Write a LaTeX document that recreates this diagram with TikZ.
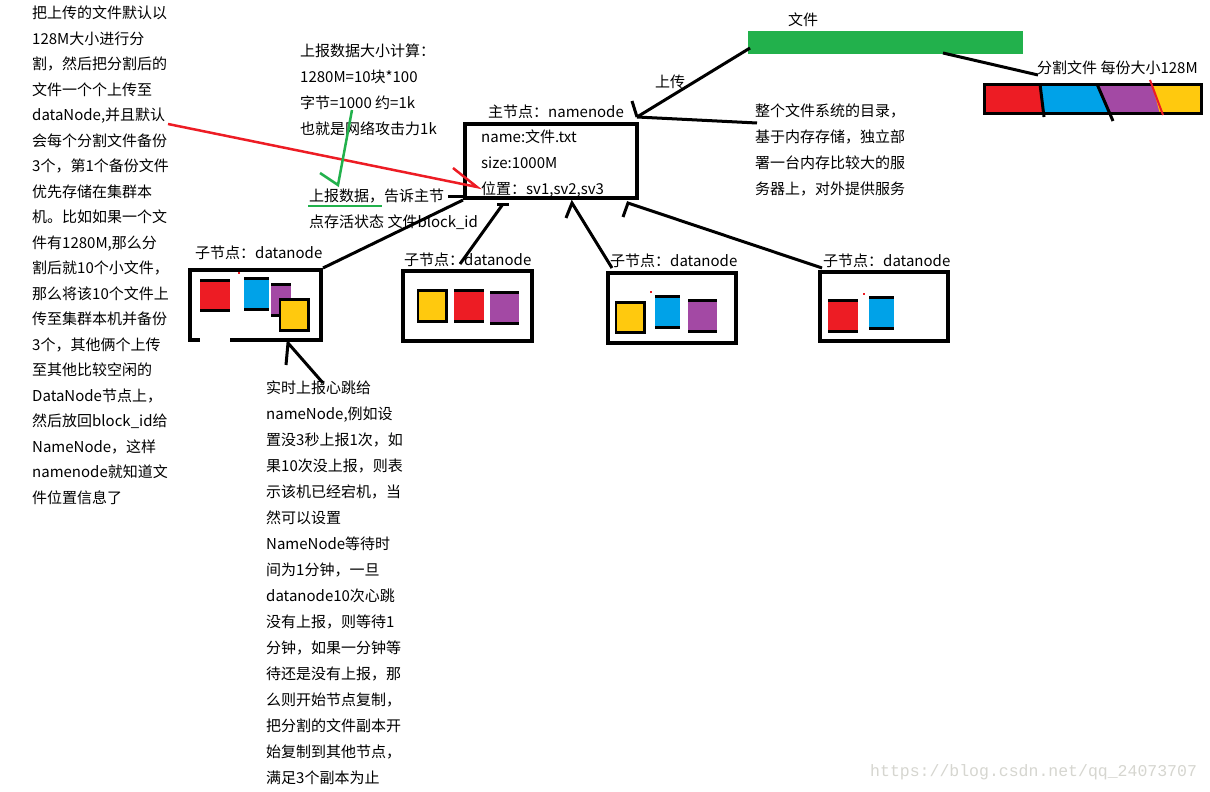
\documentclass[tikz,border=0pt]{standalone}
\usepackage{fontspec}
\setmainfont{Noto Sans CJK SC}
\newfontfamily\markfont{Liberation Mono}
\definecolor{pRed}{HTML}{ED1C24}
\definecolor{pBlue}{HTML}{00A2E8}
\definecolor{pPurple}{HTML}{A349A4}
\definecolor{pYellow}{HTML}{FFC90E}
\definecolor{pGreen}{HTML}{22B14C}
\definecolor{pMark}{HTML}{D6D6D0}
\tikzset{
  txt/.style={anchor=west, inner sep=0pt, font=\fontsize{15}{26}\selectfont},
  para/.style={anchor=north west, inner sep=0pt, align=left, font=\fontsize{15}{26}\selectfont},
  box/.style={draw, line width=4pt, inner sep=0pt},
  pen/.style={line width=3pt},
}
% colour block, black bars top and bottom
\newcommand{\barblock}[5]{%
  \fill[#5] (#1,#2) rectangle (#3,#4);
  \fill[black] (#1,#2) rectangle (#3,#2+3);
  \fill[black] (#1,#4-3) rectangle (#3,#4);
}
% colour block in a black frame
\newcommand{\frameblock}[5]{%
  \fill[black] (#1,#2) rectangle (#3,#4);
  \fill[#5] (#1+2,#2+3) rectangle (#3-3,#4-3);
}
\begin{document}
\begin{tikzpicture}[x=1pt, y=-1pt]
\useasboundingbox[fill=white] (0,0) rectangle (1210,792);
% notes
\node[para, font=\fontsize{15}{25.5}\selectfont] (T_left) at (32,6) {把上传的文件默认以\\128M大小进行分\\割，然后把分割后的\\文件一个个上传至\\dataNode,并且默认\\会每个分割文件备份\\3个，第1个备份文件\\优先存储在集群本\\机。比如如果一个文\\件有1280M,那么分\\割后就10个小文件，\\那么将该10个文件上\\传至集群本机并备份\\3个，其他俩个上传\\至其他比较空闲的\\DataNode节点上，\\然后放回block\_id给\\NameNode，这样\\namenode就知道文\\件位置信息了};
\node[para] (T_calc) at (300,44) {上报数据大小计算：\\1280M=10块*100\\字节=1000 约=1k\\也就是网络攻击力1k};
\node[para] (T_report) at (309,189) {上报数据，告诉主节\\点存活状态 文件block\_id};
\node[para] (T_dir) at (755,104) {整个文件系统的目录，\\基于内存存储，独立部\\署一台内存比较大的服\\务器上，对外提供服务};
\node[para] (T_beat) at (266,381) {实时上报心跳给\\nameNode,例如设\\置没3秒上报1次，如\\果10次没上报，则表\\示该机已经宕机，当\\然可以设置\\NameNode等待时\\间为1分钟，一旦\\datanode10次心跳\\没有上报，则等待1\\分钟，如果一分钟等\\待还是没有上报，那\\么则开始节点复制，\\把分割的文件副本开\\始复制到其他节点，\\满足3个副本为止};
% file and split file
\fill[pGreen] (748,31) rectangle (1023,54);
\coordinate (F_sw) at (750,48);
\coordinate (F_s) at (943,53);
\node[txt] (T_file) at (788,20) {文件};
\node[txt] (T_split) at (1037,68) {分割文件 每份大小128M};
\coordinate (S_nw) at (1038,75);
\fill[pRed] (984,84) rectangle (1202,114);
\fill[pBlue] (1041,84) -- (1098,84) -- (1110,114) -- (1044,114) -- cycle;
\fill[pPurple] (1098,84) -- (1152,84) -- (1160,114) -- (1110,114) -- cycle;
\fill[pYellow] (1152,84) -- (1202,84) -- (1202,114) -- (1160,114) -- cycle;
\draw[line width=3pt] (984.5,84.5) rectangle (1201.5,113.5);
\draw[pen] (1040,84) -- (1044,117);
\draw[pen] (1097,84) -- (1113,121);
\draw[pRed, line width=2pt] (1150,80) -- (1163,115);
\draw[pen] (F_s) -- (S_nw);
% namenode
\node[box, minimum width=172pt, minimum height=74pt] (NN) at (551,161) {};
\node[txt] (NN_label) at (488,112) {主节点：namenode};
\node[para] (NN_text) at (481,130) {name:文件.txt\\size:1000M\\位置：sv1,sv2,sv3};
\coordinate (NN_ne) at (637,117);
\coordinate (NN_tick) at (632,101);
\coordinate (Dir_w) at (757,123);
\node[txt] (T_up) at (655,82) {上传};
\draw[pen] (NN_ne) -- (F_sw);
\draw[pen] (NN_ne) -- (Dir_w);
\draw[pen] (NN_tick) -- (NN_ne);
\coordinate (R_w) at (448,196);
\draw[pen] (R_w) -- (NN.west |- R_w);
% datanodes
\node[box, minimum width=131pt, minimum height=70pt] (D_1) at (255.5,305) {};
\node[box, minimum width=129pt, minimum height=70pt] (D_2) at (467.5,306) {};
\node[box, minimum width=128pt, minimum height=70pt] (D_3) at (672,308) {};
\node[box, minimum width=128pt, minimum height=69pt] (D_4) at (884,306.5) {};
\node[txt] (D_1_label) at (195,253) {子节点：datanode};
\node[txt] (D_2_label) at (404,260) {子节点：datanode};
\node[txt] (D_3_label) at (610,261) {子节点：datanode};
\node[txt] (D_4_label) at (823,261) {子节点：datanode};
% blocks in datanodes
\barblock{200}{279}{230}{312}{pRed}
\barblock{244}{277}{269}{311}{pBlue}
\barblock{271}{283}{291}{317}{pPurple}
\frameblock{279}{298}{310}{332}{pYellow}
\fill[white] (200,338) rectangle (230,343);
\fill[pRed] (238,272) rectangle (240,274);
\frameblock{417}{289}{448}{323}{pYellow}
\barblock{454}{289}{484}{323}{pRed}
\barblock{490}{291}{519}{325}{pPurple}
\frameblock{615}{301}{646}{334}{pYellow}
\barblock{655}{295}{680}{329}{pBlue}
\barblock{688}{299}{717}{333}{pPurple}
\fill[pRed] (650,291) rectangle (652,293);
\barblock{828}{299}{858}{333}{pRed}
\barblock{869}{296}{894}{330}{pBlue}
\fill[pRed] (863,293) rectangle (865,295);
% connectors to namenode
\draw[pen] (NN.south west) -- (D_1.north east);
\coordinate (A_2) at (503,204);
\coordinate (B_2) at (460,264);
\draw[pen] (B_2) -- (A_2);
\draw[pen] (497,204) -- (509,204);
\coordinate (A_3) at (572,203);
\coordinate (B_3) at (612,268);
\draw[pen] (B_3) -- (A_3) -- (566,218);
\coordinate (A_4) at (628,203);
\coordinate (B_4) at (822,268);
\draw[pen] (B_4) -- (A_4) -- (623,217);
% heartbeat arrow
\coordinate (H_tip) at (288,343);
\coordinate (H_end) at (323,383);
\draw[pen] (H_end) -- (H_tip) -- (286,365);
% red and green marks
\coordinate (Red_a) at (168,124);
\coordinate (Red_b) at (477,187);
\draw[pRed, line width=2.5pt] (Red_a) -- (Red_b) -- (453,168);
\coordinate (G_top) at (352,110);
\coordinate (G_tip) at (338,185);
\draw[pGreen, line width=2.5pt] (G_top) -- (G_tip) -- (320,173);
\draw[pGreen, line width=2.5pt] (308,206) -- (382,206);
% watermark
\node[anchor=west, inner sep=0pt, text=pMark, font=\markfont\fontsize{16.5}{18}\selectfont] (W) at (870,772) {https://blog.csdn.net/qq\_24073707};
\end{tikzpicture}
\end{document}
